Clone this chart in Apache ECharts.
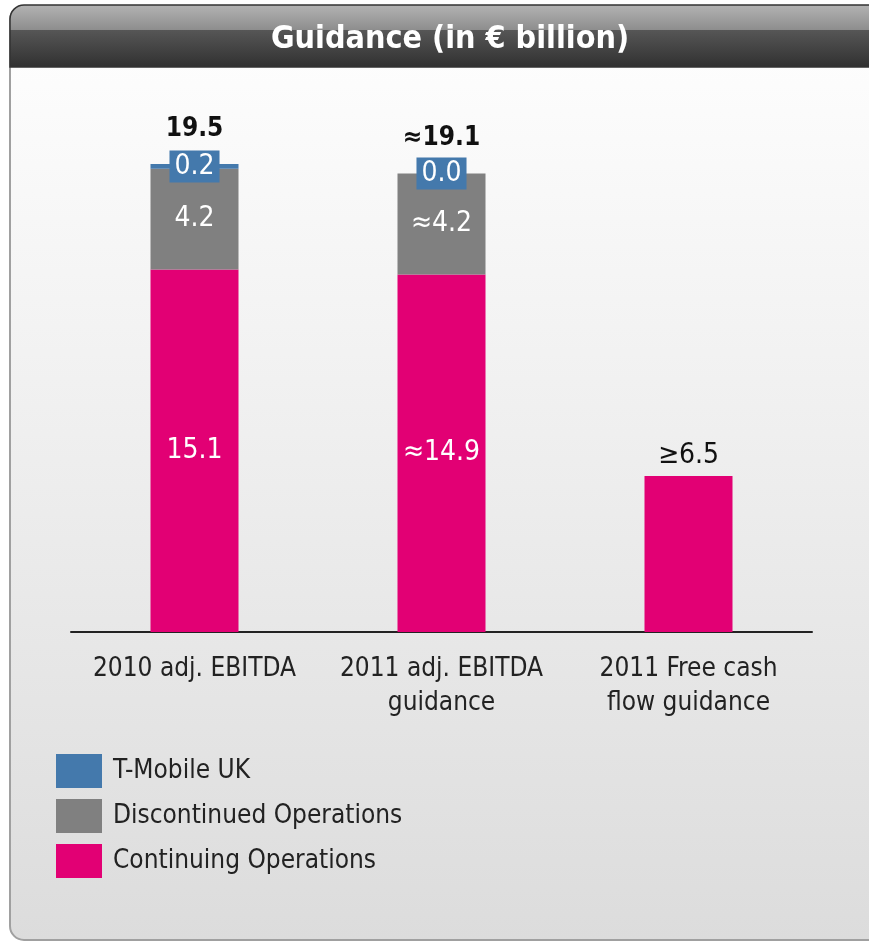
<!DOCTYPE html>
<html>
<head>
<meta charset="utf-8">
<style>
html,body{margin:0;padding:0;background:#fff;}
#chart{width:869px;height:943px;}
</style>
<script src="https://cdn.jsdelivr.net/npm/echarts@6/dist/echarts.min.js"></script>
</head>
<body>
<div id="chart"></div>
<script>
var categories = ['2010 adj. EBITDA', '2011 adj. EBITDA\nguidance', '2011 Free cash\nflow guidance'];
var continuing = [15.1, 14.9, 6.5];
var discontinued = [4.2, 4.2, null];
var tmobileUK = [0.2, 0.0, null];
var continuingLabels = ['15.1', '≈14.9', '≥6.5'];
var discontinuedLabels = ['4.2', '≈4.2', ''];
var tmobileLabels = ['0.2', '0.0', ''];
var totalLabels = ['19.5', '≈19.1', ''];

var FONT = '"Liberation Sans Narrow", "DejaVu Sans Condensed", "Roboto", sans-serif';
var MAGENTA = '#E20074', GREY = '#808080', BLUE = '#4479AC';

var chart = echarts.init(document.getElementById('chart'));
chart.setOption({
  animation: false,
  backgroundColor: '#ffffff',
  graphic: [
    {type: 'rect', z: -10, shape: {x: 10, y: 6, width: 880, height: 934, r: 14},
     style: {fill: new echarts.graphic.LinearGradient(0, 0, 0, 1, [{offset: 0, color: '#ffffff'}, {offset: 1, color: '#dcdcdc'}]), stroke: '#a0a0a0', lineWidth: 2}},
    {type: 'rect', z: -9, shape: {x: 10, y: 5, width: 880, height: 62, r: [14, 14, 0, 0]},
     style: {fill: new echarts.graphic.LinearGradient(0, 0, 0, 1, [
       {offset: 0, color: '#b4b4b4'}, {offset: 0.4, color: '#8e8e8e'},
       {offset: 0.41, color: '#565656'}, {offset: 1, color: '#303030'}]), stroke: '#333333', lineWidth: 1.5}}
  ],
  title: {
    text: 'Guidance (in € billion)',
    left: 445, top: 19, textAlign: 'center',
    textStyle: {color: '#ffffff', fontFamily: FONT, fontWeight: 'bold', fontSize: 32}
  },
  legend: {
    orient: 'vertical', left: 51, top: 749,
    itemWidth: 46, itemHeight: 34, itemGap: 11,
    icon: 'rect',
    data: ['T-Mobile UK', 'Discontinued Operations', 'Continuing Operations'],
    textStyle: {fontFamily: FONT, fontSize: 26, color: '#222', padding: [0, 0, 0, 6]}
  },
  grid: {left: 71, right: 57, top: 152, bottom: 311, containLabel: false},
  xAxis: {
    type: 'category', data: categories,
    axisLine: {lineStyle: {color: '#222', width: 2}},
    axisTick: {show: false},
    axisLabel: {fontFamily: FONT, fontSize: 26, color: '#222', lineHeight: 34, margin: 20, interval: 0}
  },
  yAxis: {type: 'value', min: 0, max: 20, show: false, splitLine: {show: false}},
  series: [
    {name: 'Continuing Operations', type: 'bar', stack: 't', barWidth: 88, data: continuing.map(function (v, i) {
        var d = {value: v};
        if (i === 2) d.label = {position: 'top', color: '#111', distance: 6};
        return d;
      }),
     itemStyle: {color: MAGENTA},
     label: {show: true, position: 'inside', color: '#fff', fontFamily: FONT, fontSize: 28,
       formatter: function (p) { return continuingLabels[p.dataIndex]; }}},
    {name: 'Discontinued Operations', type: 'bar', stack: 't', data: discontinued,
     itemStyle: {color: GREY},
     label: {show: true, position: 'inside', color: '#fff', fontFamily: FONT, fontSize: 28,
       formatter: function (p) { return discontinuedLabels[p.dataIndex]; }}},
    {name: 'T-Mobile UK', type: 'bar', stack: 't', data: tmobileUK,
     itemStyle: {color: BLUE},
     label: {show: true, position: 'inside', color: '#fff', fontFamily: FONT, fontSize: 28,
       backgroundColor: BLUE, padding: [3, 5, 1, 5],
       formatter: function (p) { return tmobileLabels[p.dataIndex]; }}},
    {name: 'total', type: 'bar', stack: 't', data: totalLabels.map(function (t) { return t ? 0 : null; }),
     itemStyle: {color: 'transparent'},
     label: {show: true, position: 'top', distance: 22, color: '#111', fontFamily: FONT, fontWeight: 'bold', fontSize: 26,
       formatter: function (p) { return totalLabels[p.dataIndex]; }}}
  ]
});
</script>
</body>
</html>
